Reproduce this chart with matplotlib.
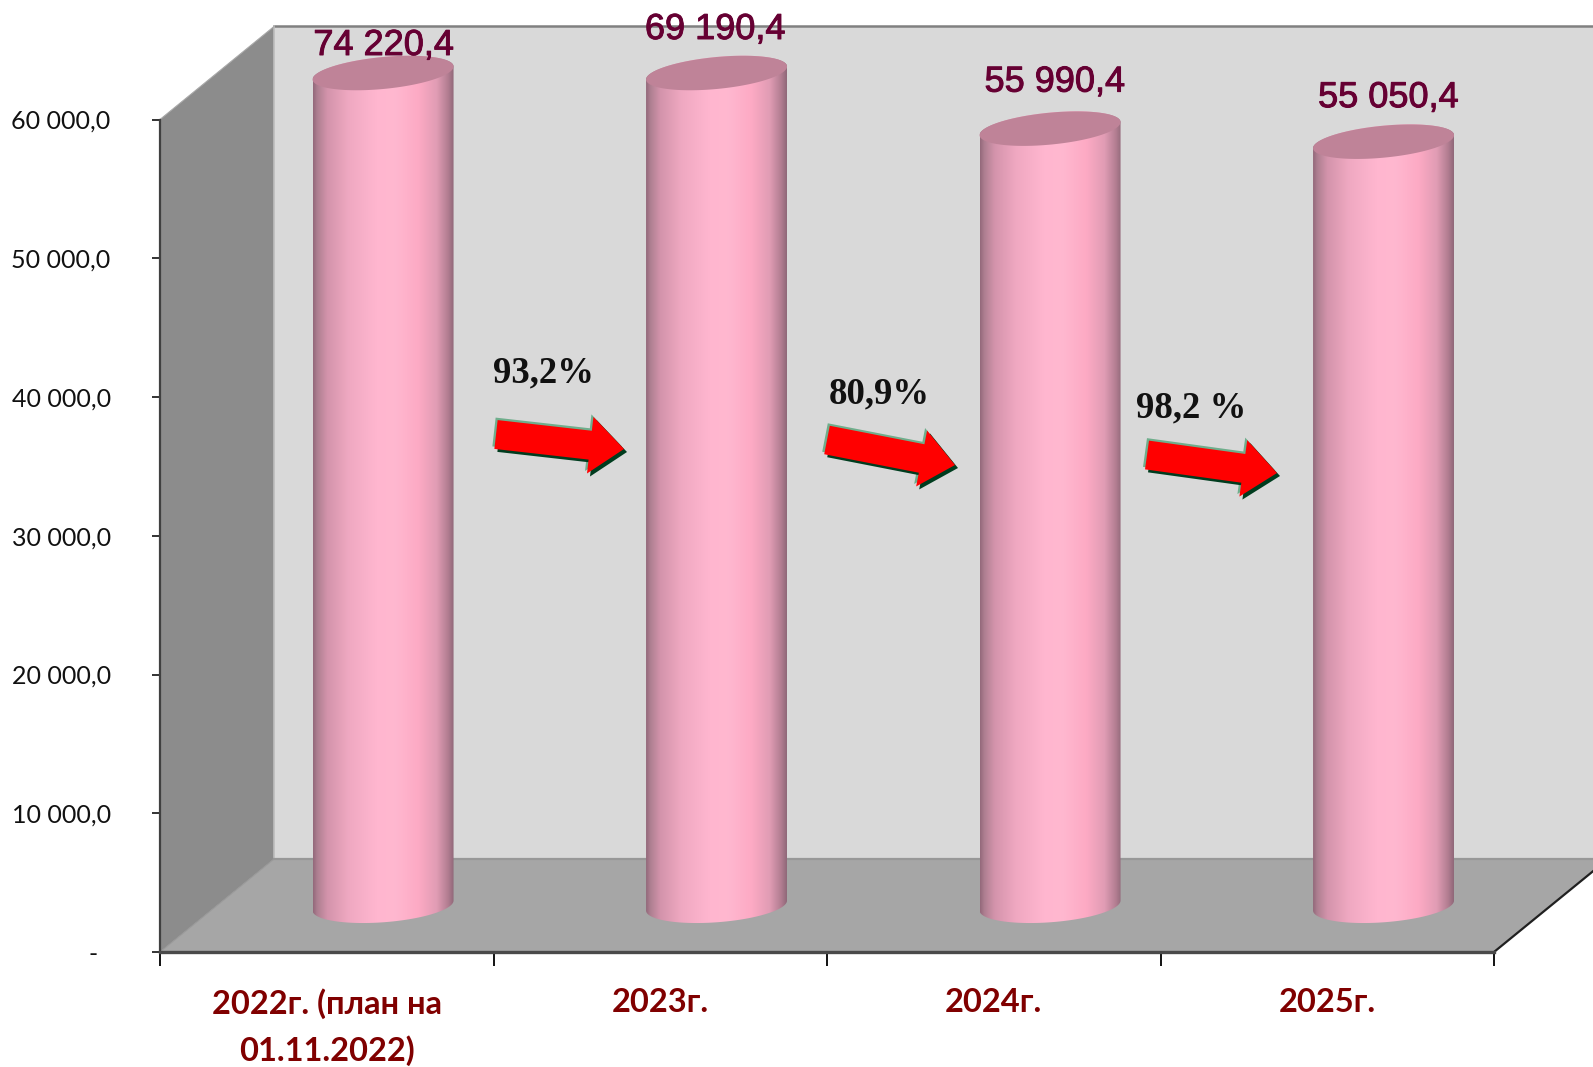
import numpy as np
import matplotlib
matplotlib.use("Agg")
import matplotlib.pyplot as plt
import matplotlib.patheffects as pe
from matplotlib.patches import Polygon
from matplotlib.colors import LinearSegmentedColormap
from matplotlib.transforms import IdentityTransform

# ---- data ----
categories = ["2022г. (план на\n01.11.2022)", "2023г.", "2024г.", "2025г."]
values = [74220.4, 69190.4, 55990.4, 55050.4]
value_labels = ["74 220,4", "69 190,4", "55 990,4", "55 050,4"]
growth_labels = ["93,2%", "80,9%", "98,2 %"]
y_ticks = [0, 10000, 20000, 30000, 40000, 50000, 60000]
y_tick_labels = ["-  ", "10 000,0", "20 000,0", "30 000,0", "40 000,0", "50 000,0", "60 000,0"]
y_max = 60000

# ---- layout ----
W, H = 1593, 1067
L, R, T, B = 160, 1494, 119.5, 952
fig = plt.figure(figsize=(W / 100, H / 100), dpi=100, facecolor="white")
ax = fig.add_axes([L / W, 1 - B / H, (R - L) / W, (B - T) / H])
ax.patch.set_visible(False)
px_x = 4 / (R - L)
px_y = y_max / (B - T)

depth_x, depth_y = 114 * px_x, 93 * px_y
walls = dict(zorder=0, lw=0, clip_on=False)
ax.add_patch(Polygon([(0, 0), (0, y_max), (depth_x, y_max + depth_y), (depth_x, depth_y)], fc="#8C8C8C", **walls))
ax.add_patch(Polygon([(depth_x, depth_y), (depth_x, y_max + depth_y), (4 + depth_x, y_max + depth_y), (4 + depth_x, depth_y)], fc="#D9D9D9", **walls))
ax.add_patch(Polygon([(0, 0), (4, 0), (4 + depth_x, depth_y), (depth_x, depth_y)], fc="#A6A6A6", **walls))
ax.plot([depth_x, 4 + depth_x], [y_max + depth_y] * 2, color="#808080", lw=1.8, clip_on=False, zorder=1)
ax.plot([depth_x, depth_x], [depth_y, y_max + depth_y], color="#BDBDBD", lw=1.2, clip_on=False, zorder=1)
ax.plot([depth_x, 4 + depth_x], [depth_y] * 2, color="#989898", lw=1.6, clip_on=False, zorder=1)
ax.plot([0, depth_x], [y_max, y_max + depth_y], color="#A8A8A8", lw=0.8, clip_on=False, zorder=1)
ax.plot([0, depth_x], [0, depth_y], color="#989898", lw=0.8, clip_on=False, zorder=1)
ax.plot([4, 4 + depth_x], [0, depth_y], color="#202020", lw=1.6, clip_on=False, zorder=2)

# ---- cylinders ----
half_w = 70.5 * px_x
top_b, top_k = 16 * px_y, 6.5 * px_y
base_b, base_k = 16.8 * px_y, 5 * px_y
base_y = depth_y / 2
shade = LinearSegmentedColormap.from_list("cyl", [
    (0.00, "#94697B"), (0.03, "#AE7F91"), (0.10, "#D393AB"), (0.25, "#EFA8C1"),
    (0.45, "#FFB6CF"), (0.58, "#FFB8D0"), (0.75, "#FDAAC4"), (0.88, "#E09CB4"),
    (0.96, "#B27D91"), (1.00, "#906879")])
grad = np.linspace(0, 1, 256).reshape(1, -1)
bar_tops = np.minimum(values, y_max)
label_dx = [0.6, -0.9, 3.5, 3.5]
label_dy = [27.5, 43.5, 46.5, 44]

def ell(cx, cy, t, b, k):
    return np.column_stack([cx + half_w * np.cos(t), cy + b * np.sin(t) + k * np.cos(t)])

for i, (top, lab, dx, dy) in enumerate(zip(bar_tops, value_labels, label_dx, label_dy)):
    cx = i + 0.5 + depth_x / 2 - 0.7 * px_x
    front = np.linspace(np.pi, 2 * np.pi, 80)
    back = np.linspace(0, np.pi, 80)
    top_y = base_y + top
    body = Polygon(np.vstack([ell(cx, base_y, front, base_b, base_k), ell(cx, top_y, back, top_b, top_k)]),
                   transform=ax.transData, fc="none", lw=0)
    ax.add_patch(body)
    im = ax.imshow(grad, cmap=shade, vmin=0, vmax=1, aspect="auto", interpolation="bilinear",
                   extent=[cx - half_w, cx + half_w, base_y - 2 * base_b, top_y + 2 * top_b], zorder=3)
    im.set_clip_path(body)
    im.set_clip_box(fig.bbox)
    ax.add_patch(Polygon(ell(cx, top_y, np.linspace(0, 2 * np.pi, 160), top_b, top_k), fc="#BF8398", lw=0,
                         zorder=4, clip_on=False))
    t = ax.annotate(lab, (cx, top_y), xytext=(dx, dy * 0.72), textcoords="offset points", ha="center",
                    va="center", color="#660033", fontsize=26, family="Liberation Sans", zorder=5,
                    annotation_clip=False)
    t.set_path_effects([pe.withStroke(linewidth=0.7, foreground="#660033")])

# ---- arrows (pixel geometry of the slide overlay) ----
def arrow_pts(tail, tip, hw=14.5, HW=28.5, hl=34):
    tail, tip = np.array(tail, float), np.array(tip, float)
    u = (tip - tail) / np.linalg.norm(tip - tail)
    n = np.array([-u[1], u[0]])
    neck = tip - u * hl
    pts = [tail + n * hw, neck + n * hw, neck + n * HW, tip, neck - n * HW, neck - n * hw, tail - n * hw]
    return np.array(pts)

def to_disp(p):
    p = np.asarray(p, float)
    return np.column_stack([p[:, 0], H - p[:, 1]])

arrow_tails = [(496, 434.5), (827, 440), (1147, 455)]
arrow_tips = [(624, 449), (955, 465), (1277, 473)]
growth_xy = [(543, 373), (879, 394), (1191, 408)]
for tail, tip, g, (gx, gy) in zip(arrow_tails, arrow_tips, growth_labels, growth_xy):
    pts = arrow_pts(tail, tip)
    for dxy, col in (((-2, -2.5), "#6FAE8C"), ((3, 3), "#003C1E"), ((0, 0), "#FF0000")):
        fig.add_artist(Polygon(to_disp(pts + np.array(dxy)), transform=IdentityTransform(),
                               fc=col, lw=0, zorder=6))
    fig.text(gx / W, 1 - gy / H, g, ha="center", va="center", fontsize=26.5, fontweight="bold",
             family="Liberation Serif", color="#111111", zorder=7)

# ---- axes ----
ax.set_xlim(0, 4)
ax.set_ylim(0, y_max)
for s in ("top", "right"):
    ax.spines[s].set_visible(False)
ax.spines["left"].set_color("#404040")
ax.spines["left"].set_linewidth(1.6)
ax.spines["bottom"].set_color("#4A4A4A")
ax.spines["bottom"].set_linewidth(2.4)
ax.set_yticks(y_ticks, y_tick_labels, fontsize=18, family="Lato", color="#111111")
ax.tick_params(axis="y", length=6, width=1.2, pad=29.5, color="#111111")
ax.set_xticks(range(5))
ax.set_xticklabels([])
ax.tick_params(axis="x", length=10, width=1.4, color="#111111")
ax.set_xticks(np.arange(4) + 0.5, categories, minor=True, fontsize=23.5, fontweight="bold",
              family=["Lato", "Open Sans"], color="#800000", linespacing=1.65)
ax.tick_params(axis="x", which="minor", length=0, pad=26)

fig.savefig("out.png", dpi=100)
